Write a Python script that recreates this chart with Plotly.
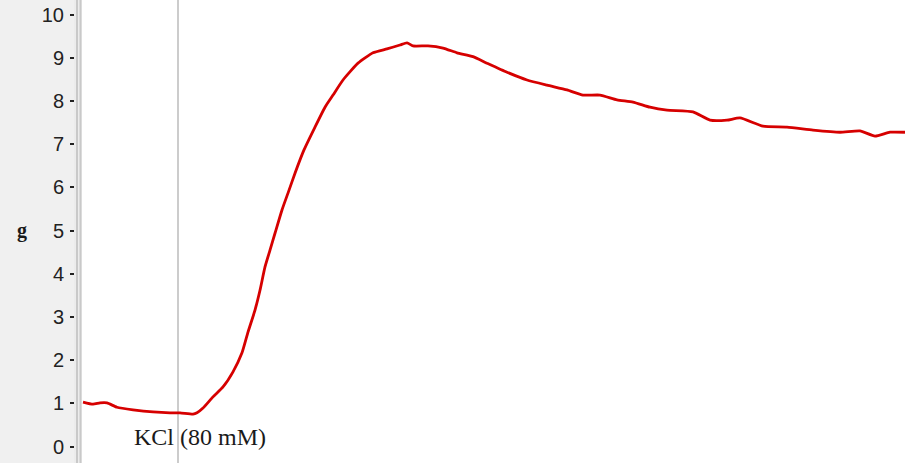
import plotly.graph_objects as go

# Force trace (time in s, tension in g)
time_s = [1, 11, 18, 25, 35, 51, 71, 88, 98, 111, 115, 121, 131, 141, 151, 160, 166, 173,
          178, 183, 188, 193, 200, 206, 213, 222, 233, 243, 251, 261, 276, 291, 305, 318,
          325, 331, 346, 361, 375, 391, 405, 425, 445, 465, 485, 501, 518, 535, 551, 568,
          585, 611, 628, 645, 658, 681, 705, 731, 758, 778, 793, 808, 823]
force_g = [1.03, 0.98, 1.01, 1.01, 0.91, 0.85, 0.80, 0.78, 0.78, 0.75, 0.78, 0.89, 1.15,
           1.38, 1.73, 2.17, 2.65, 3.16, 3.62, 4.16, 4.55, 4.94, 5.48, 5.87, 6.33, 6.87,
           7.40, 7.86, 8.14, 8.49, 8.88, 9.12, 9.21, 9.30, 9.35, 9.28, 9.28, 9.23, 9.12,
           9.03, 8.88, 8.67, 8.49, 8.37, 8.26, 8.14, 8.14, 8.03, 7.98, 7.86, 7.79, 7.75,
           7.56, 7.56, 7.61, 7.42, 7.40, 7.33, 7.28, 7.31, 7.19, 7.28, 7.28]
y_ticks = [0, 1, 2, 3, 4, 5, 6, 7, 8, 9, 10]
event_time = [96]
event_label = ["KCl (80 mM)"]

fig = go.Figure()
fig.add_trace(go.Scatter(x=time_s, y=force_g, mode="lines",
                         line=dict(color="#d60000", width=2.8, shape="spline", smoothing=0.5),
                         hoverinfo="skip"))

fig.add_vline(x=event_time[0], line=dict(color="#cccccc", width=2), layer="below")

fig.add_annotation(x=event_time[0] + 22, y=0.22, text=event_label[0], showarrow=False,
                   xanchor="center", yanchor="middle",
                   font=dict(family="Liberation Serif", size=24, color="#1a1a1a"))

fig.add_annotation(xref="paper", x=(22 - 82) / 823, y=5.0, text="<b>g</b>", showarrow=False,
                   xanchor="center", yanchor="middle",
                   font=dict(family="Liberation Serif", size=20, color="#1a1a1a"))

# separator between axis panel and plot
fig.add_shape(type="rect", xref="paper", yref="paper", x0=(74 - 82) / 823, x1=0, y0=0, y1=1,
              fillcolor="#ececec", line=dict(width=0), layer="above")
fig.add_shape(type="line", xref="paper", yref="paper", x0=(77 - 82) / 823, x1=(77 - 82) / 823,
              y0=0, y1=1, line=dict(color="#c9c9c9", width=2), layer="above")
fig.add_shape(type="line", xref="paper", yref="paper", x0=(80.5 - 82) / 823, x1=(80.5 - 82) / 823,
              y0=0, y1=1, line=dict(color="#c9c9c9", width=2), layer="above")

fig.update_layout(
    width=905, height=463,
    margin=dict(l=82, r=0, t=0, b=0),
    paper_bgcolor="#f0f0f0", plot_bgcolor="#ffffff",
    showlegend=False,
    xaxis=dict(range=[0, 823], visible=False, showgrid=False, zeroline=False),
    yaxis=dict(range=[-0.382, 10.343], tickvals=y_ticks, ticktext=[str(v) for v in y_ticks],
               showgrid=False, zeroline=False, showline=False,
               ticks="outside", ticklen=11, tickwidth=2, tickcolor="#222222",
               ticklabelstandoff=2,
               tickfont=dict(family="Liberation Sans", size=20, color="#222222")),
)

fig.write_html("out.html")
